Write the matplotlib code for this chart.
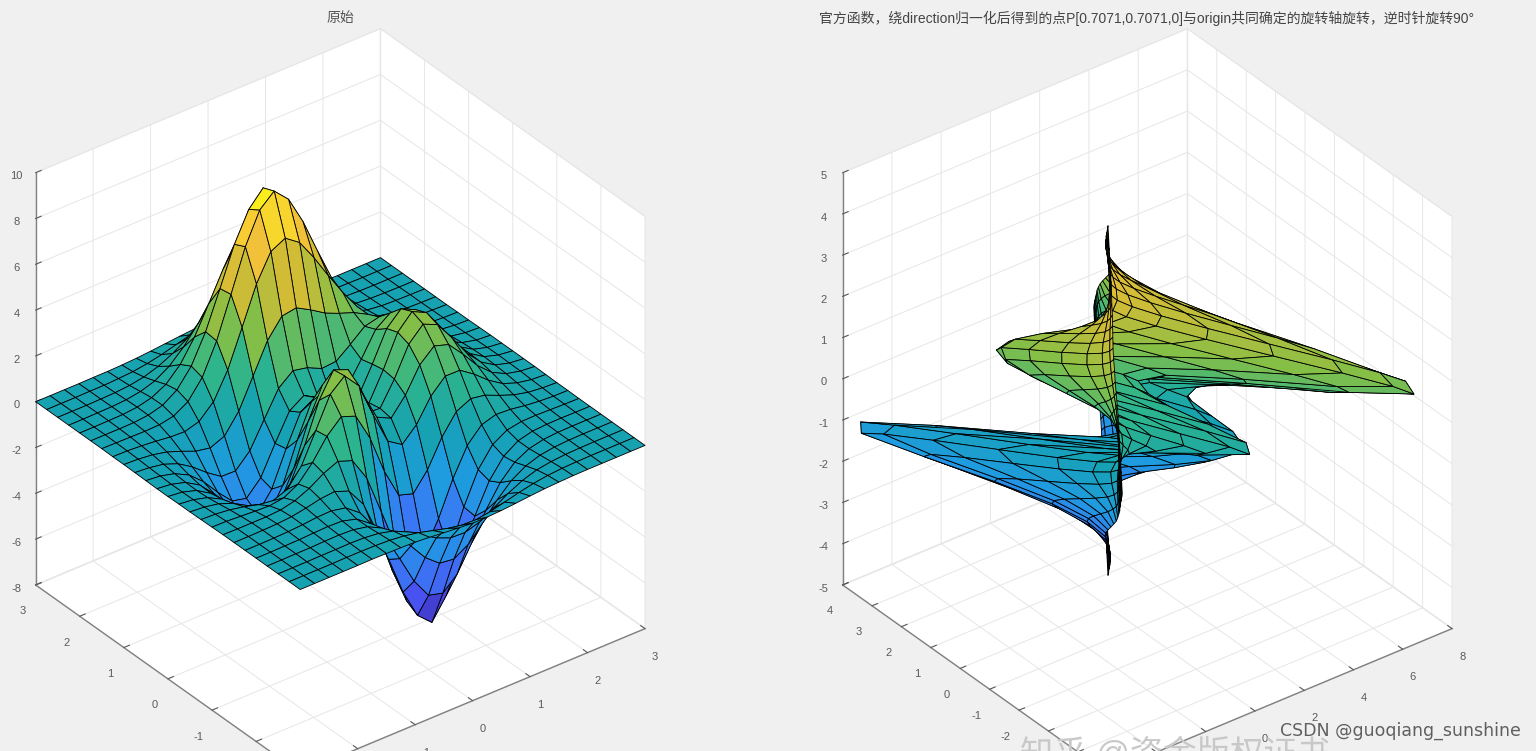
import numpy as np
import matplotlib
matplotlib.use("Agg")
import matplotlib.pyplot as plt
from matplotlib.colors import LinearSegmentedColormap, Normalize

plt.rcParams['font.family'] = ['Liberation Sans', 'Noto Sans CJK SC', 'DejaVu Sans']
plt.rcParams['axes.unicode_minus'] = False

# surface heights, one row per y, one column per x
x_vals = [-3, -2.75, -2.5, -2.25, -2, -1.75, -1.5, -1.25, -1, -0.75, -0.5, -0.25, 0,
          0.25, 0.5, 0.75, 1, 1.25, 1.5, 1.75, 2, 2.25, 2.5, 2.75, 3]
y_vals = [-3, -2.75, -2.5, -2.25, -2, -1.75, -1.5, -1.25, -1, -0.75, -0.5, -0.25, 0,
          0.25, 0.5, 0.75, 1, 1.25, 1.5, 1.75, 2, 2.25, 2.5, 2.75, 3]
z_rows = [
    [0, 0, 0, 0, 0, .01, 0, -.01, -.03, -.08, -.14, -.20, -.25, -.25, -.22, -.17, -.11, -.06, -.03, -.01, 0, 0, 0, 0, 0],
    [0, 0, 0, 0, .01, .01, 0, -.03, -.10, -.22, -.39, -.56, -.68, -.70, -.61, -.46, -.30, -.17, -.08, -.03, -.01, 0, 0, 0, 0],
    [0, 0, 0, .01, .01, .02, 0, -.07, -.23, -.53, -.91, -1.31, -1.57, -1.60, -1.41, -1.06, -.69, -.38, -.18, -.08, -.03, -.01, 0, 0, 0],
    [0, 0, .01, .01, .03, .04, .01, -.12, -.44, -.99, -1.74, -2.51, -3.02, -3.10, -2.72, -2.05, -1.32, -.73, -.35, -.14, -.05, -.01, 0, 0, 0],
    [0, 0, .01, .02, .05, .07, .05, -.13, -.59, -1.45, -2.64, -3.88, -4.76, -4.93, -4.35, -3.27, -2.10, -1.15, -.53, -.20, -.06, -.01, 0, 0, 0],
    [0, 0, .01, .03, .07, .13, .15, .02, -.46, -1.48, -3.01, -4.70, -5.98, -6.55, -5.64, -4.24, -2.69, -1.42, -.61, -.20, -.04, 0, .01, 0, 0],
    [0, 0, .01, .03, .08, .19, .33, .39, .15, -.68, -2.19, -4.08, -5.68, -6.55, -5.76, -4.32, -2.64, -1.27, -.44, -.07, .04, .05, .03, .01, 0],
    [0, -.01, -.01, -.01, .03, .17, .45, .84, 1.11, .88, -.14, -1.85, -3.60, -4.60, -4.40, -3.22, -1.74, -.56, .08, .27, .23, .13, .06, .02, .01],
    [-.01, -.02, -.06, -.10, -.13, -.04, .30, .98, 1.86, 2.45, 2.22, 1.00, -.72, -2.02, -2.22, -1.43, -.27, .58, .88, .77, .50, .26, .11, .04, .01],
    [-.02, -.05, -.12, -.25, -.42, -.51, -.28, .49, 1.78, 3.09, 3.63, 2.94, 1.40, 0, -.41, .20, 1.18, 1.79, 1.78, 1.35, .82, .41, .18, .06, .02],
    [-.03, -.08, -.20, -.44, -.80, -1.16, -1.21, -.60, .80, 2.49, 3.55, 3.30, 2.00, .70, .39, 1.14, 2.20, 2.76, 2.56, 1.88, 1.12, .56, .24, .09, .03],
    [-.03, -.10, -.27, -.60, -1.14, -1.78, -2.16, -1.84, -.56, 1.23, 2.56, 2.63, 1.58, .53, .48, 1.50, 2.76, 3.37, 3.09, 2.25, 1.34, .67, .28, .10, .03],
    [-.04, -.11, -.30, -.69, -1.33, -2.14, -2.77, -2.71, -1.65, .06, 1.48, 1.75, .98, .19, .38, 1.57, 2.94, 3.58, 3.27, 2.37, 1.41, .70, .30, .11, .03],
    [-.04, -.11, -.29, -.67, -1.32, -2.16, -2.87, -2.98, -2.15, -.65, .68, 1.06, .52, -.03, .28, 1.47, 2.76, 3.36, 3.06, 2.22, 1.32, .66, .28, .10, .03],
    [-.03, -.09, -.25, -.57, -1.12, -1.85, -2.49, -2.64, -2.00, -.76, .39, .80, .46, .09, .38, 1.34, 2.38, 2.83, 2.56, 1.84, 1.09, .54, .23, .08, .03],
    [-.02, -.07, -.18, -.42, -.82, -1.33, -1.76, -1.78, -1.16, -.05, 1.04, 1.55, 1.42, 1.12, 1.17, 1.65, 2.17, 2.32, 1.99, 1.40, .82, .40, .17, .06, .02],
    [-.01, -.04, -.11, -.25, -.48, -.74, -.86, -.60, .23, 1.51, 2.79, 3.59, 3.69, 3.34, 2.94, 2.66, 2.43, 2.09, 1.58, 1.04, .58, .28, .11, .04, .01],
    [-.01, -.02, -.06, -.12, -.20, -.23, -.05, .55, 1.69, 3.29, 4.92, 6.07, 6.39, 5.94, 5.02, 3.97, 2.97, 2.09, 1.35, .79, .41, .19, .07, .03, .01],
    [0, -.01, -.02, -.03, -.01, .11, .48, 1.28, 2.61, 4.38, 6.20, 7.54, 8.10, 7.48, 6.25, 4.72, 3.26, 2.05, 1.19, .62, .29, .12, .05, .02, 0],
    [0, 0, 0, .01, .07, .24, .65, 1.43, 2.67, 4.29, 5.96, 7.22, 7.90, 7.20, 5.99, 4.45, 2.96, 1.78, .96, .47, .21, .08, .03, .01, 0],
    [0, 0, .01, .02, .08, .23, .55, 1.16, 2.10, 3.31, 4.56, 5.51, 5.86, 5.50, 4.57, 3.37, 2.21, 1.29, .68, .32, .13, .05, .02, .01, 0],
    [0, 0, .01, .02, .06, .16, .36, .74, 1.32, 2.07, 2.84, 3.43, 3.65, 3.43, 2.84, 2.09, 1.36, .79, .41, .19, .08, .03, .01, 0, 0],
    [0, 0, 0, .01, .03, .08, .19, .39, .69, 1.07, 1.47, 1.77, 1.88, 1.77, 1.47, 1.08, .70, .40, .21, .09, .04, .01, 0, 0, 0],
    [0, 0, 0, .01, .01, .04, .08, .17, .30, .47, .64, .77, .82, .77, .64, .47, .30, .17, .09, .04, .02, .01, 0, 0, 0],
    [0, 0, 0, 0, .01, .01, .03, .06, .11, .17, .23, .28, .30, .28, .23, .17, .11, .06, .03, .01, .01, 0, 0, 0, 0],
]

left_title = "原始"
right_title = "官方函数，绕direction归一化后得到的点P[0.7071,0.7071,0]与origin共同确定的旋转轴旋转，逆时针旋转90°"

left_xticks = [-3, -2, -1, 0, 1, 2, 3]
left_yticks = [-3, -2, -1, 0, 1, 2, 3]
left_zticks = [-8, -6, -4, -2, 0, 2, 4, 6, 8, 10]
right_xticks = [-6, -4, -2, 0, 2, 4, 6, 8]
right_yticks = [-5, -4, -3, -2, -1, 0, 1, 2, 3, 4]
right_zticks = [-5, -4, -3, -2, -1, 0, 1, 2, 3, 4, 5]

parula = LinearSegmentedColormap.from_list("parula", [
    "#3E26A8", "#4850F0", "#3A78F5", "#1F9BE0", "#16A2B2", "#2FB58A",
    "#86BF46", "#D0BC36", "#F8C23A", "#F9FB15"])

X, Y = np.meshgrid(x_vals, y_vals)
Z = np.array(z_rows)

# right panel: same sheet turned 90 deg about the direction (1,1,0) through the origin
c = np.sqrt(0.5)
X2 = 0.5 * (X + Y) + c * Z
Y2 = 0.5 * (X + Y) - c * Z
Z2 = c * (Y - X)


def cell_colors(v):
    mid = (v[:-1, :-1] + v[1:, :-1] + v[:-1, 1:] + v[1:, 1:]) / 4
    return parula(Normalize(v.min(), v.max())(mid))


def draw_panel(rect, xs, ys, zs, xlim, ylim, zlim, xticks, yticks, zticks):
    ax = fig.add_axes(rect, projection='3d', proj_type='ortho')
    ax.view_init(elev=33, azim=-127.5)
    ax.set_box_aspect((435, 435, 492), zoom=1.0)
    ax.patch.set_alpha(0)
    ax.plot_surface(xs, ys, zs, facecolors=cell_colors(zs), rstride=1, cstride=1,
                    edgecolor='black', linewidth=0.6, shade=False, antialiased=True)
    ax.set_xlim(xlim)
    ax.set_ylim(ylim)
    ax.set_zlim(zlim)
    ax.set_xticks(xticks)
    ax.set_yticks(yticks)
    ax.set_zticks(zticks)
    for axis in (ax.xaxis, ax.yaxis, ax.zaxis):
        axis.set_pane_color((1, 1, 1, 1))
        axis.pane.set_edgecolor('#ececec')
        axis._axinfo['grid'].update(color='#e6e6e6', linewidth=0.7)
        axis._axinfo['tick'].update(inward_factor=0.0, outward_factor=0.2)
        axis.line.set_color('#808080')
        axis.line.set_linewidth(1.0)
    ax.tick_params(labelsize=8, colors='#5a5a5a', pad=3)
    ax.tick_params(axis='z', pad=1)
    return ax


fig = plt.figure(figsize=(15.36, 7.51), dpi=100, facecolor='#f0f0f0')

draw_panel([-52 / 1536, -42 / 751, 764 / 1536, 764 / 751], X, Y, Z,
           (-3, 3), (-3, 3), (-8, 10), left_xticks, left_yticks, left_zticks)
draw_panel([755 / 1536, -42 / 751, 764 / 1536, 764 / 751], X2, Y2, Z2,
           (-6, 8), (-5, 4), (-5, 5), right_xticks, right_yticks, right_zticks)

fig.text(340 / 1536, 1 - 18 / 751, left_title, ha='center', va='center', fontsize=10, color='#555555')
fig.text(1147 / 1536, 1 - 18 / 751, right_title, ha='center', va='center', fontsize=10, color='#444444')

# watermarks, the lower one runs off the bottom edge as in the reference
fig.text(1020 / 1536, 1 - 764 / 751, "知乎 @资金版权证书", fontsize=24, color='#c8c8c8', va='baseline', zorder=5)
fig.text(1280 / 1536, 1 - 731 / 751, "CSDN @guoqiang_sunshine", fontsize=12.5, color='#5f5f5f',
         va='center', family='DejaVu Sans', zorder=6)

fig.savefig("out.png", dpi=100, facecolor=fig.get_facecolor())
